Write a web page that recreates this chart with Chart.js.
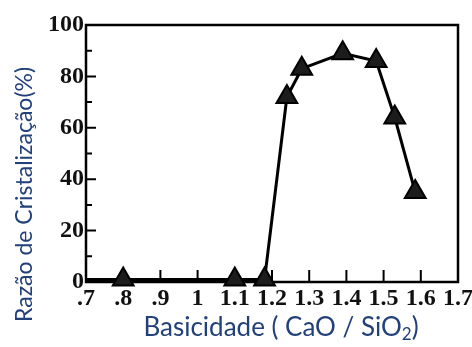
<!DOCTYPE html>
<html>
<head>
<meta charset="utf-8">
<script src="https://cdn.jsdelivr.net/npm/chart.js@4/dist/chart.umd.min.js"></script>
<style>
  html, body { margin: 0; padding: 0; background: #fff; }
</style>
</head>
<body>
<canvas id="chart" width="472" height="347"></canvas>
<script>
// basicity (CaO/SiO2) vs crystallization ratio
var basicity = [0.7, 0.8, 1.1, 1.18, 1.24, 1.28, 1.39, 1.48, 1.53, 1.585];
var crystalRatio = [1, 1, 1, 1, 72, 83, 89, 86, 64, 35];
var xTickLabels = [".7", ".8", ".9", "1", "1.1", "1.2", "1.3", "1.4", "1.5", "1.6", "1.7"];
var yTickLabels = ["0", "20", "40", "60", "80", "100"];

var xTitle = ["Basicidade ( CaO / SiO", "2", ")"];
var yTitle = "Razão de Cristalização(%)";

var titleColor = "#22407a";
var tickFont = { family: "Liberation Serif", size: 24, weight: "bold" };

var points = basicity.map(function (b, i) {
  return { x: b, y: crystalRatio[i] };
});

// ticks pointing into the plot, frame and axis titles
var frame = {
  id: "frame",
  beforeDatasetsDraw: function (chart) {
    var ctx = chart.ctx;
    var a = chart.chartArea;
    var xs = chart.scales.x;
    var ys = chart.scales.y;
    ctx.save();
    ctx.strokeStyle = "#000";
    ctx.lineWidth = 2;
    ctx.beginPath();
    xs.ticks.forEach(function (t) {
      var px = xs.getPixelForValue(t.value);
      ctx.moveTo(px, a.bottom);
      ctx.lineTo(px, a.bottom - 12);
    });
    for (var v = 10; v < 100; v += 10) {
      var py = ys.getPixelForValue(v);
      ctx.moveTo(a.left, py);
      ctx.lineTo(a.left + (v % 20 === 0 ? 10 : 6), py);
    }
    ctx.stroke();
    ctx.lineWidth = 2.5;
    ctx.strokeRect(a.left, a.top, a.right - a.left, a.bottom - a.top);
    ctx.restore();
  },
  afterDraw: function (chart) {
    var ctx = chart.ctx;
    var a = chart.chartArea;
    ctx.save();
    ctx.fillStyle = titleColor;
    ctx.textBaseline = "alphabetic";
    ctx.textAlign = "left";

    // x title with subscript
    var big = "26px Lato";
    var small = "17px Lato";
    ctx.font = big;
    var w0 = ctx.measureText(xTitle[0]).width;
    var w2 = ctx.measureText(xTitle[2]).width;
    ctx.font = small;
    var w1 = ctx.measureText(xTitle[1]).width;
    var total = w0 + w1 + w2;
    var cx = (a.left + a.right) / 2 + 9;
    var x0 = cx - total / 2;
    var base = 336;
    ctx.font = big;
    ctx.fillText(xTitle[0], x0, base);
    ctx.font = small;
    ctx.fillText(xTitle[1], x0 + w0, base + 4);
    ctx.font = big;
    ctx.fillText(xTitle[2], x0 + w0 + w1, base);

    // y title, rotated
    ctx.translate(32, 322);
    ctx.rotate(-Math.PI / 2);
    ctx.font = "23px Lato";
    ctx.fillText(yTitle, 0, 0);
    ctx.restore();
  }
};

var config = {
  type: "line",
  data: {
    datasets: [
      {
        data: points,
        borderColor: "#000",
        borderWidth: 3,
        tension: 0,
        clip: false,
        pointStyle: "triangle",
        pointRadius: function (c) { return c.dataIndex === 0 ? 0 : 12; },
        pointBackgroundColor: "#1c1c1c",
        pointBorderColor: "#000",
        pointBorderWidth: 2
      }
    ]
  },
  options: {
    responsive: false,
    animation: false,
    layout: { padding: { left: 46, top: 25, right: 11, bottom: 0 } },
    plugins: {
      legend: { display: false },
      tooltip: { enabled: false }
    },
    scales: {
      x: {
        type: "linear",
        min: 0.7,
        max: 1.7,
        grid: { display: false, drawTicks: false },
        border: { display: false },
        ticks: {
          stepSize: 0.1,
          autoSkip: false,
          maxRotation: 0,
          padding: 2,
          color: "#111",
          font: tickFont,
          callback: function (v, i) { return xTickLabels[i]; }
        },
        afterFit: function (s) {
          s.height = 65;
          s.paddingLeft = 0;
          s.paddingRight = 0;
        }
      },
      y: {
        min: 0,
        max: 100,
        grid: { display: false, drawTicks: false },
        border: { display: false },
        ticks: {
          stepSize: 20,
          padding: 2,
          color: "#111",
          font: tickFont,
          callback: function (v, i) { return yTickLabels[i]; }
        },
        afterFit: function (s) {
          s.width = 40;
          s.paddingTop = 0;
          s.paddingBottom = 0;
        }
      }
    }
  },
  plugins: [frame]
};

var myChart = new Chart(document.getElementById("chart"), config);
</script>
</body>
</html>
